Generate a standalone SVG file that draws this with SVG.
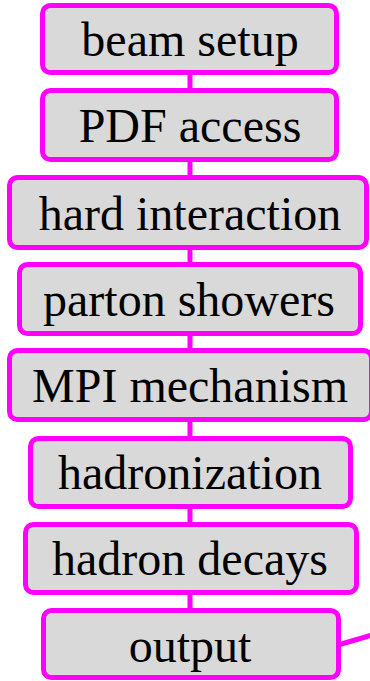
<svg xmlns="http://www.w3.org/2000/svg" width="370" height="681" viewBox="0 0 370 681">
<style>
.box{fill:#d9d9d9;stroke:#ff00ff;stroke-width:5}
.lbl{font-family:"Liberation Serif","Times New Roman",serif;font-size:48px;fill:#000;text-anchor:middle}
.con{stroke:#ff00ff;stroke-width:5;fill:none}
</style>
<rect width="370" height="681" fill="#ffffff"/>
<g id="connectors">
<line class="con" x1="190" y1="72" x2="190" y2="91"/>
<line class="con" x1="190" y1="159" x2="190" y2="178"/>
<line class="con" x1="190" y1="247" x2="190" y2="265"/>
<line class="con" x1="190" y1="333" x2="190" y2="351"/>
<line class="con" x1="190" y1="419" x2="190" y2="439"/>
<line class="con" x1="190" y1="506" x2="190" y2="525"/>
<line class="con" x1="190" y1="592" x2="190" y2="611"/>
<line class="con" x1="338" y1="645" x2="372" y2="635"/>
</g>
<g id="beam-setup">
<rect class="box" x="42.5" y="5.5" width="294" height="67" rx="8"/>
<text class="lbl" x="190" y="56">beam setup</text>
</g>
<g id="pdf-access">
<rect class="box" x="42.5" y="90.5" width="294" height="69" rx="8"/>
<text class="lbl" x="190" y="142">PDF access</text>
</g>
<g id="hard-interaction">
<rect class="box" x="9.5" y="177.5" width="357" height="70" rx="8"/>
<text class="lbl" x="190" y="230">hard interaction</text>
</g>
<g id="parton-showers">
<rect class="box" x="19.5" y="264.5" width="341" height="69" rx="8"/>
<text class="lbl" x="189" y="316">parton showers</text>
</g>
<g id="mpi-mechanism">
<rect class="box" x="9.5" y="350.5" width="362" height="69" rx="8"/>
<text class="lbl" x="190" y="402">MPI mechanism</text>
</g>
<g id="hadronization">
<rect class="box" x="30.5" y="438.5" width="320" height="68" rx="8"/>
<text class="lbl" x="190" y="489">hadronization</text>
</g>
<g id="hadron-decays">
<rect class="box" x="25.5" y="524.5" width="331" height="68" rx="8"/>
<text class="lbl" x="190" y="575">hadron decays</text>
</g>
<g id="output">
<rect class="box" x="43.5" y="610.5" width="295" height="67" rx="8"/>
<text class="lbl" x="190" y="662">output</text>
</g>
</svg>
